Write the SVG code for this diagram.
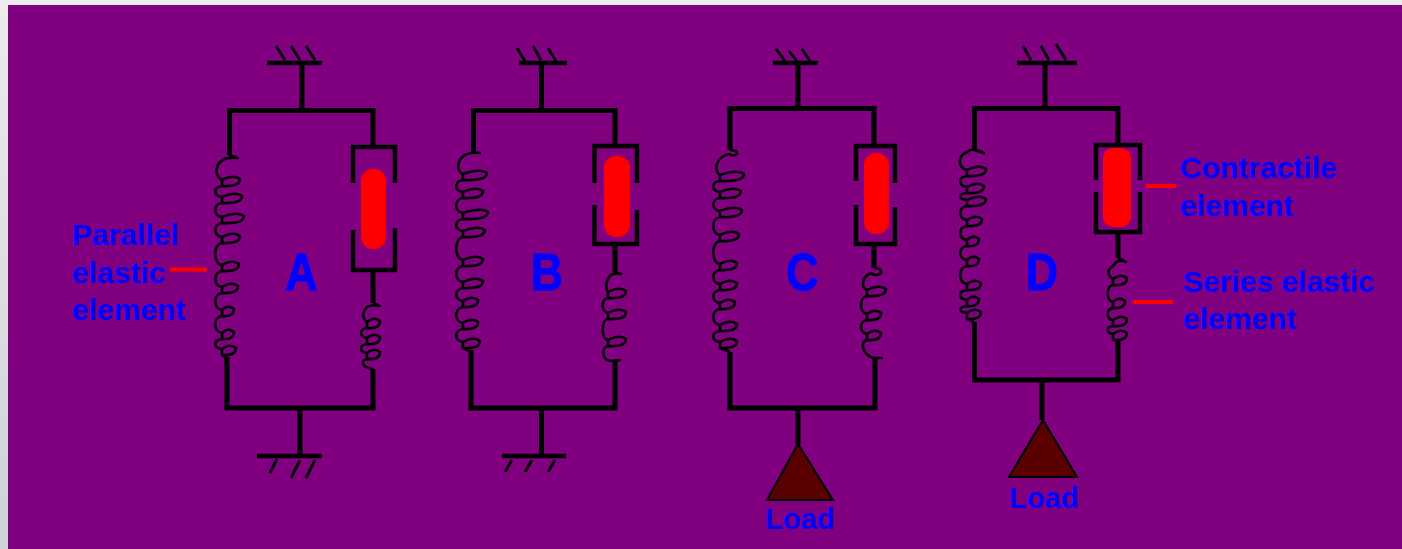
<svg xmlns="http://www.w3.org/2000/svg" width="1402" height="549" viewBox="0 0 1402 549">
<defs>
<linearGradient id="edge" x1="0" y1="0" x2="0" y2="1"><stop offset="0" stop-color="#ececec"/><stop offset="1" stop-color="#cfd0d8"/></linearGradient>
</defs>
<style>
.w{fill:none;stroke:#000;stroke-width:5}
.g{fill:none;stroke:#000;stroke-width:4.5}
.h{fill:none;stroke:#000;stroke-width:2.8}
.c{fill:none;stroke:#000;stroke-width:2.6;stroke-linejoin:round}
.b{fill:none;stroke:#000;stroke-width:4.5}
.m{fill:#f00}
.r{fill:none;stroke:#f00;stroke-width:4}
.l{fill:#5a0000;stroke:#000;stroke-width:2}
text{font-family:"Liberation Sans",Arial,sans-serif;font-weight:700;fill:#00f}
.t{font-size:30px}
.n{font-size:52px;text-anchor:middle;stroke:#00f;stroke-width:1}
.d{font-size:29px;text-anchor:middle}
</style>
<rect width="1402" height="549" fill="url(#edge)"/>
<rect x="8" y="5" width="1394" height="544" fill="#800080"/>

<g id="connectors">
<path class="w" d="M302,63V110M229.500,155V110.500H373V145M373,270V303M373,369V408H227V357M300,408V456"/>
<path class="w" d="M541.500,63V110.500M473.500,152V110.500H615V145M615,244V272M615,361V408H471V350M541.500,408V456"/>
<path class="w" d="M798,63V108.500M730,150V108.500H874V145M874,244V268M875,358V408H730V352M798,408V445"/>
<path class="w" d="M1045,63V108.500M974.500,150V108.500H1118V143M1118,232V258M1118,340V380H974.500V322M1042,380V420"/>
<path class="r" d="M170,269.500H207M1146,186H1176M1133,302H1173"/>
</g>

<g id="ground-a-top"><path class="g" d="M267,63H322"/><path class="h" d="M276,46L285,60M291,46L300,60M306,46L315,60"/></g>
<g id="ground-a-bottom"><path class="g" d="M257,456H322"/><path class="h" d="M277,459L270,473M300,460L291,478M315,460L306,478"/></g>
<g id="ground-b-top"><path class="g" d="M519,63H567"/><path class="h" d="M517,48L525,61M533,46L541,60M548,48L556,61"/></g>
<g id="ground-b-bottom"><path class="g" d="M502,456H566"/><path class="h" d="M512,460L505,472M532,460L525,472M555,460L548,472"/></g>
<g id="ground-c-top"><path class="g" d="M773,63H818"/><path class="h" d="M776,49L785,61M789,51L797,61M802,49L810,61"/></g>
<g id="ground-d-top"><path class="g" d="M1017,63H1077"/><path class="h" d="M1023,46L1031,60M1041,46L1049,60M1056,44L1066,60"/></g>

<g id="parallel-spring-a"><path class="c" d="M229,155L238,158C213,155 213,176 222,180v6v-6q12,-6 18,-1q0,8 -18,7c-9,1 -9,10 0,11v6v-6q14,-6 20,-1q0,8 -20,7c-9,1 -9,13 0,14v6v-6q16,-6 22,-1q0,8 -22,7c-9,1 -9,13 0,14v6v-6q12,-6 18,-1q0,8 -18,7c-9,1 -9,21 0,22v6v-6q11,-6 17,-1q0,8 -17,7c-9,1 -9,15 0,16v6v-6q10,-6 16,-1q0,8 -16,7c-9,1 -9,16 0,17v6v-6q6,-6 12,-1q0,8 -12,7c-9,1 -9,16 0,17v6v-6q6,-6 12,-1q0,8 -12,7c-9,1 -9,9 0,10v6v-6q8,-6 14,-1q0,8 -14,7L227,358"/></g>
<g id="series-spring-a"><path class="c" d="M373,303L380,306C362,302 360,318 367,322v6v-6q7,-6 13,-1q0,8 -13,7c-8,1 -8,9 0,10v6v-6q7,-6 13,-1q0,8 -13,7c-8,1 -8,8 0,9v6v-6q7,-6 13,-1q0,8 -13,7c-7,1 -5,9 6,10"/></g>
<g id="contractile-a"><path class="b" d="M353,183V147H395V183M353,230V270H395V228"/><rect class="m" x="361" y="169" width="25" height="80" rx="12"/></g>

<g id="parallel-spring-b"><path class="c" d="M473,152L480,153C455,150 455,172 463,174v6v-6q18,-6 24,-1q0,8 -24,7c-9,1 -9,11 0,12v6v-6q14,-6 20,-1q0,8 -20,7c-9,1 -9,14 0,15v6v-6q19,-6 25,-1q0,8 -25,7c-9,1 -9,11 0,12v6v-6q16,-6 22,-1q0,8 -22,7c-9,1 -9,22 0,23v6v-6q14,-6 20,-1q0,8 -20,7c-9,1 -9,15 0,16v6v-6q14,-6 20,-1q0,8 -20,7c-9,1 -9,12 0,13v6v-6q9,-6 15,-1q0,8 -15,7c-9,1 -9,15 0,16v6v-6q9,-6 15,-1q0,8 -15,7c-9,1 -9,12 0,13v6v-6q11,-6 17,-1q0,8 -17,7L471,352"/></g>
<g id="series-spring-b"><path class="c" d="M615,272L621,274C606,270 604,288 608,292v6v-6q12,-6 18,-1q0,8 -18,7c-7,1 -7,14 0,15v6v-6q12,-6 18,-1q0,8 -18,7c-7,1 -7,20 0,21v6v-6q12,-6 18,-1q0,8 -18,7c-7,1 -6,14 2,15L621,360"/></g>
<g id="contractile-b"><path class="b" d="M594.500,183V146H637V183M594.500,205V244H637V210"/><rect class="m" x="604" y="156" width="26" height="81" rx="12"/></g>

<g id="parallel-spring-c"><path class="c" d="M730,150q8,0 7,4q-4,3 -8,0C714,158 714,172 720,175v6v-6q18,-6 24,-1q0,8 -24,7c-9,1 -9,10 0,11v6v-6q15,-6 21,-1q0,8 -21,7c-9,1 -9,12 0,13v6v-6q16,-6 22,-1q0,8 -22,7c-9,1 -9,17 0,18v6v-6q13,-6 19,-1q0,8 -19,7c-9,1 -9,22 0,23v6v-6q11,-6 17,-1q0,8 -17,7c-9,1 -9,13 0,14v6v-6q11,-6 17,-1q0,8 -17,7c-9,1 -9,12 0,13v6v-6q9,-6 15,-1q0,8 -15,7c-9,1 -9,15 0,16v6v-6q11,-6 17,-1q0,8 -17,7c-9,1 -9,10 0,11v6v-6q11,-6 17,-1q0,8 -17,7L730,352"/></g>
<g id="series-spring-c"><path class="c" d="M874,268q8,0 7,5q-5,4 -10,0C860,278 862,288 867,290v6v-6q13,-6 19,-1q0,8 -19,7c-8,1 -8,17 0,18v6v-6q8,-6 14,-1q0,8 -14,7c-8,1 -8,13 0,14v6v-6q8,-6 14,-1q0,8 -14,7c-7,1 -5,14 6,18L883,358"/></g>
<g id="contractile-c"><path class="b" d="M856,181V146H895V183M856,205V244H895V207"/><rect class="m" x="864" y="153" width="25" height="81" rx="12"/></g>
<g id="load-c"><polygon class="l" points="798,444 767,500 833,500"/><text class="d" x="800" y="529">Load</text></g>

<g id="parallel-spring-d"><path class="c" d="M974,150L984,153Q972,147 967,152C957,156 958,168 967,170v6v-6q13,-6 19,-1q0,8 -19,7c-9,1 -9,10 0,11v6v-6q11,-6 17,-1q0,8 -17,7c-9,1 -9,6 0,7v6v-6q13,-6 19,-1q0,8 -19,7c-9,1 -9,13 0,14v6v-6q9,-6 15,-1q0,8 -15,7c-9,1 -9,13 0,14v6v-6q6,-6 12,-1q0,8 -12,7c-9,1 -9,13 0,14v6v-6q6,-6 12,-1q0,8 -12,7c-9,1 -9,17 0,18v6v-6q8,-6 14,-1q0,8 -14,7c-9,1 -9,9 0,10v6v-6q6,-6 12,-1q0,8 -12,7c-9,1 -9,6 0,7v6v-6q8,-6 14,-1q0,8 -14,7L974,322"/></g>
<g id="series-spring-d"><path class="c" d="M1118,258L1126,262Q1118,258 1113,266C1106,270 1108,276 1113,279v6v-6q8,-6 14,-1q0,8 -14,7c-7,1 -7,16 0,17v6v-6q6,-6 12,-1q0,8 -12,7c-7,1 -7,11 0,12v6v-6q8,-6 14,-1q0,8 -14,7c-7,1 -7,7 0,8v6v-6q8,-6 14,-1q0,8 -14,7L1118,340"/></g>
<g id="contractile-d"><path class="b" d="M1096,180V145H1140V180M1096,192V232H1140V192"/><rect class="m" x="1103" y="148" width="28" height="79" rx="10"/></g>
<g id="load-d"><polygon class="l" points="1043,420 1009,477 1077,477"/><text class="d" x="1044" y="508">Load</text></g>

<g id="label-a"><text class="n" transform="translate(301.500,290) scale(.86,1)">A</text></g>
<g id="label-b"><text class="n" transform="translate(547,290) scale(.86,1)">B</text></g>
<g id="label-c"><text class="n" transform="translate(802.500,290) scale(.86,1)">C</text></g>
<g id="label-d"><text class="n" transform="translate(1042,290) scale(.86,1)">D</text></g>
<g id="label-parallel"><text class="t" x="72" y="245">Parallel</text><text class="t" x="72" y="283">elastic</text><text class="t" x="72" y="320">element</text></g>
<g id="label-contractile"><text class="t" x="1180" y="178">Contractile</text><text class="t" x="1180" y="216">element</text></g>
<g id="label-series"><text class="t" x="1183" y="292">Series elastic</text><text class="t" x="1183" y="329">element</text></g>
</svg>
